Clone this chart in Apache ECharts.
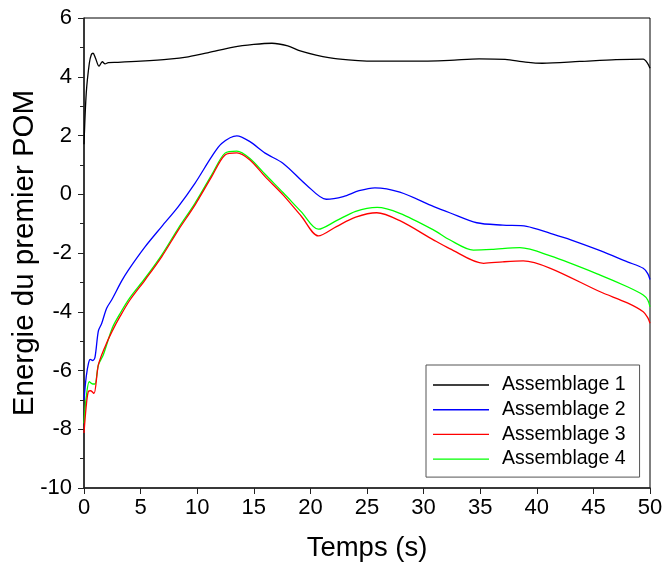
<!DOCTYPE html>
<html>
<head>
<meta charset="utf-8">
<script src="https://cdn.jsdelivr.net/npm/echarts@6/dist/echarts.min.js"></script>
<style>html,body{margin:0;padding:0;background:#fff}#c{width:666px;height:563px}</style>
</head>
<body>
<div id="c"></div>
<script>
var seriesNames = ['Assemblage 1', 'Assemblage 2', 'Assemblage 3', 'Assemblage 4'];
var xTicks = [0, 5, 10, 15, 20, 25, 30, 35, 40, 45, 50];
var yTicks = [-10, -8, -6, -4, -2, 0, 2, 4, 6];

var t1 = [0, 0.2, 0.47, 0.65, 0.8, 1.0, 1.33, 1.62, 1.86, 2.15, 3, 5, 7.5, 9.2, 11, 13.2, 15, 16.6, 18, 19.1, 20.5, 22.4, 25.7, 29, 32.3, 34.9, 37.2, 39, 40.5, 43.8, 47, 49.4, 49.8, 50];
var v1 = [1.7, 3.45, 4.46, 4.76, 4.8, 4.65, 4.36, 4.51, 4.44, 4.48, 4.49, 4.53, 4.6, 4.68, 4.82, 5.01, 5.1, 5.14, 5.05, 4.88, 4.74, 4.61, 4.53, 4.53, 4.56, 4.61, 4.59, 4.5, 4.46, 4.52, 4.58, 4.6, 4.45, 4.29];

var t2 = [0, 0.2, 0.4, 0.55, 0.77, 0.97, 1.27, 1.56, 2.0, 2.44, 3.33, 3.92, 5.39, 6.86, 8.33, 9.8, 11.28, 12.16, 13.5, 14.66, 16, 17.6, 19.67, 21.4, 22.9, 24.3, 25.7, 27.9, 30.9, 32.3, 34.7, 37, 39.1, 41.2, 43, 45.6, 48, 49.4, 49.8, 50];
var v2 = [-7.0, -6.2, -5.75, -5.62, -5.66, -5.55, -4.65, -4.4, -3.88, -3.6, -2.95, -2.58, -1.79, -1.1, -0.42, 0.37, 1.28, 1.73, 1.99, 1.79, 1.4, 1.05, 0.31, -0.17, -0.08, 0.12, 0.22, 0.07, -0.42, -0.63, -0.97, -1.05, -1.09, -1.33, -1.55, -1.92, -2.3, -2.52, -2.7, -2.9];

var t3 = [0, 0.2, 0.38, 0.59, 0.88, 1.27, 1.86, 2.5, 3.2, 4.06, 5.39, 6.86, 8.33, 9.8, 11.28, 12.46, 13.5, 14.66, 16, 17.6, 19.2, 20.7, 22.3, 24, 25.86, 27.9, 30.9, 32.3, 35.3, 37, 38.8, 41.2, 45.6, 48, 49.4, 49.8, 50];
var v3 = [-8.13, -7.2, -6.72, -6.69, -6.78, -5.81, -5.19, -4.65, -4.15, -3.6, -2.92, -2.13, -1.22, -0.37, 0.6, 1.34, 1.41, 1.17, 0.6, -0.03, -0.75, -1.42, -1.1, -0.78, -0.63, -0.9, -1.56, -1.85, -2.35, -2.3, -2.27, -2.52, -3.32, -3.7, -4.0, -4.2, -4.39];

var t4 = [0, 0.2, 0.47, 0.77, 0.97, 1.27, 1.7, 2.5, 3.2, 4.06, 5.39, 6.86, 8.33, 9.8, 11.28, 12.46, 13.5, 14.66, 16, 17.6, 19.2, 20.7, 22.3, 24, 25.9, 27.9, 30.9, 32.3, 34.4, 36, 38.5, 41.2, 45.6, 48, 49.4, 49.8, 50];
var v4 = [-7.8, -6.9, -6.38, -6.46, -6.46, -5.81, -5.47, -4.55, -4.05, -3.52, -2.86, -2.07, -1.16, -0.31, 0.66, 1.4, 1.47, 1.22, 0.68, 0.05, -0.6, -1.19, -0.9, -0.58, -0.45, -0.65, -1.22, -1.55, -1.9, -1.88, -1.82, -2.1, -2.75, -3.15, -3.43, -3.6, -3.83];

var colors = ['#000000', '#0000ff', '#ff0000', '#00ff00'];

function pairs(t, v) { return t.map(function (x, i) { return [x, v[i]]; }); }
var allData = [pairs(t1, v1), pairs(t2, v2), pairs(t3, v3), pairs(t4, v4)];

var font = 'Liberation Sans, Arial, Helvetica, sans-serif';
var chart = echarts.init(document.getElementById('c'), null, { renderer: 'canvas' });
chart.setOption({
  animation: false,
  backgroundColor: '#ffffff',
  grid: { left: 84, right: 16, top: 18, bottom: 75, show: true, borderColor: '#000', borderWidth: 1, backgroundColor: 'transparent', containLabel: false, outerBoundsMode: 'none' },
  legend: {
    orient: 'vertical', left: 426, top: 365,
    data: seriesNames.map(function (n) { return { name: n, icon: 'rect' }; }),
    itemWidth: 56, itemHeight: 1.4, itemGap: 4.7,
    padding: [10, 14, 8, 7],
    borderColor: '#555', borderWidth: 1, backgroundColor: '#fff',
    textStyle: { fontFamily: font, fontSize: 19.5, color: '#000', lineHeight: 20, padding: [0, 0, 0, 8] }
  },
  xAxis: {
    type: 'value', min: xTicks[0], max: xTicks[xTicks.length - 1], interval: 5,
    name: 'Temps (s)', nameLocation: 'middle', nameGap: 46, nameMoveOverlap: false,
    nameTextStyle: { fontFamily: font, fontSize: 27.5, color: '#000' },
    axisLine: { show: true, onZero: false, lineStyle: { color: '#222', width: 1.5 } },
    axisTick: { show: true, inside: false, length: 6, lineStyle: { color: '#222', width: 1 } },
    axisLabel: { fontFamily: font, fontSize: 22, color: '#000', margin: 9 },
    splitLine: { show: false }
  },
  yAxis: {
    type: 'value', min: yTicks[0], max: yTicks[yTicks.length - 1], interval: 2,
    name: 'Energie du premier POM', nameLocation: 'middle', nameGap: 44, nameMoveOverlap: false,
    nameTextStyle: { fontFamily: font, fontSize: 29.5, color: '#000' },
    axisLine: { show: true, onZero: false, lineStyle: { color: '#222', width: 1.5 } },
    axisTick: { show: true, inside: false, length: 6, lineStyle: { color: '#222', width: 1 } },
    minorTick: { show: true, splitNumber: 2, length: 4, lineStyle: { color: '#222', width: 1 } },
    axisLabel: { fontFamily: font, fontSize: 22, color: '#000', margin: 12 },
    splitLine: { show: false }
  },
  series: allData.map(function (d, i) {
    return {
      name: seriesNames[i], type: 'line', data: d, showSymbol: false, symbol: 'none',
      smooth: 0.3, color: colors[i],
      lineStyle: { color: colors[i], width: 1.3 },
      z: 10 - i
    };
  })
});
</script>
</body>
</html>
